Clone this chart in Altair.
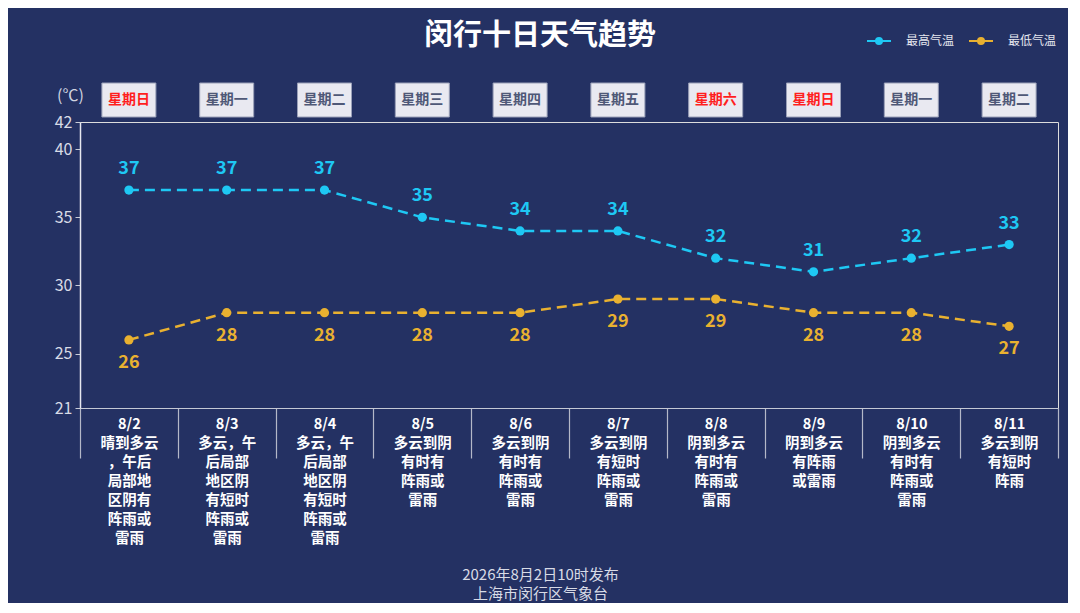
import altair as alt
import pandas as pd

dates = ["8/2", "8/3", "8/4", "8/5", "8/6", "8/7", "8/8", "8/9", "8/10", "8/11"]
weekdays = ["星期日", "星期一", "星期二", "星期三", "星期四", "星期五", "星期六", "星期日", "星期一", "星期二"]
highs = [37, 37, 37, 35, 34, 34, 32, 31, 32, 33]
lows = [26, 28, 28, 28, 28, 29, 29, 28, 28, 27]
desc_lines = [
    ["晴到多云", "，午后", "局部地", "区阴有", "阵雨或", "雷雨"],
    ["多云，午", "后局部", "地区阴", "有短时", "阵雨或", "雷雨"],
    ["多云，午", "后局部", "地区阴", "有短时", "阵雨或", "雷雨"],
    ["多云到阴", "有时有", "阵雨或", "雷雨"],
    ["多云到阴", "有时有", "阵雨或", "雷雨"],
    ["多云到阴", "有短时", "阵雨或", "雷雨"],
    ["阴到多云", "有时有", "阵雨或", "雷雨"],
    ["阴到多云", "有阵雨", "或雷雨"],
    ["阴到多云", "有时有", "阵雨或", "雷雨"],
    ["多云到阴", "有短时", "阵雨"],
]
series_names = ["最高气温", "最低气温"]
series_colors = ["#1ec8f4", "#e9b130"]
y_ticks = [21, 25, 30, 35, 40, 42]
title_text = "闵行十日天气趋势"
footer = ["2026年8月2日10时发布", "上海市闵行区气象台"]

BG = "#243163"
FONT = "Noto Sans CJK SC"

keys = ["|".join([d] + lines) for d, lines in zip(dates, desc_lines)]

day_df = pd.DataFrame({"key": keys, "weekday": weekdays, "high": highs, "low": lows})
long_df = pd.DataFrame({
    "key": keys + keys,
    "series": [series_names[0]] * len(keys) + [series_names[1]] * len(keys),
    "temp": highs + lows,
})

x_enc = alt.X(
    "key:N",
    sort=keys,
    scale=alt.Scale(paddingInner=0, paddingOuter=0),
    axis=alt.Axis(
        title=footer,
        labelExpr="datum.value ? split(datum.value, '|') : ''",
        labelAngle=0,
        labelAlign="center",
        labelColor="#ffffff",
        labelFontSize=14.5,
        labelFontWeight="bold",
        labelLineHeight=19,
        labelPadding=-41,
        labelBaseline="top",
        labelFont=FONT,
        tickBand="extent",
        tickSize=50,
        tickColor="#b4b8c8",
        tickWidth=1.2,
        domainColor="#c4c8d4",
        domainWidth=1.2,
        grid=False,
        titleFontSize=15,
        titleFontWeight="normal",
        titleColor="#d8dbe6",
        titleFont=FONT,
        titleX=460,
        titleY=159,
        titleAlign="center",
        titleBaseline="top",
        titleLineHeight=19,
    ),
)

y_scale = alt.Scale(domain=[21, 42], nice=False, zero=False)
y_enc = alt.Y(
    "temp:Q",
    scale=y_scale,
    axis=alt.Axis(
        values=y_ticks,
        title="(℃)",
        titleAngle=0,
        titleX=-10,
        titleY=-27,
        titleAlign="center",
        titleBaseline="middle",
        titleFontSize=16,
        titleFontWeight="normal",
        titleColor="#d0d4e0",
        titleFont=FONT,
        labelColor="#d8dbe6",
        labelFontSize=16,
        labelPadding=3,
        labelFont=FONT,
        tickSize=5,
        tickColor="#c8ccd8",
        domainColor="#e6e8f0",
        domainWidth=1.5,
        grid=False,
    ),
)

color_enc = alt.Color(
    "series:N",
    scale=alt.Scale(domain=series_names, range=series_colors),
    legend=alt.Legend(
        title=None,
        orient="none",
        legendX=786,
        legendY=-94,
        direction="horizontal",
        symbolType="M-1,0H1M0.25,0A0.25,0.25,0,1,1,-0.25,0A0.25,0.25,0,1,1,0.25,0Z",
        symbolSize=576,
        symbolStrokeWidth=2,
        labelColor="#e6e8f0",
        labelFontSize=12,
        labelFont=FONT,
        labelOffset=14,
        columnPadding=10,
    ),
)

lines = alt.Chart(long_df).mark_line(strokeDash=[10, 6], strokeWidth=2.5).encode(
    x=x_enc, y=y_enc, color=color_enc
)
points = alt.Chart(long_df).mark_point(filled=True, size=85, opacity=1).encode(
    x=alt.X("key:N", sort=keys), y=alt.Y("temp:Q"), color=alt.Color("series:N")
)

high_labels = alt.Chart(day_df).mark_text(
    dy=-21, fontSize=18, fontWeight="bold", color=series_colors[0], font=FONT
).encode(x=alt.X("key:N", sort=keys), y=alt.Y("high:Q", scale=y_scale), text="high:Q")

low_labels = alt.Chart(day_df).mark_text(
    dy=23, fontSize=18, fontWeight="bold", color=series_colors[1], font=FONT
).encode(x=alt.X("key:N", sort=keys), y=alt.Y("low:Q", scale=y_scale), text="low:Q")

boxes = alt.Chart(day_df).mark_bar(
    size=54, fill="#e9e9f1", stroke="#9aa0b8", strokeWidth=1
).encode(x=alt.X("key:N", sort=keys), y=alt.value(-39), y2=alt.value(-5))

weekday_text = alt.Chart(day_df).mark_text(
    fontSize=14, fontWeight="bold", font=FONT
).encode(
    x=alt.X("key:N", sort=keys),
    y=alt.value(-22),
    text="weekday:N",
    color=alt.condition(
        alt.FieldOneOfPredicate(field="weekday", oneOf=["星期六", "星期日"]),
        alt.value("#ff1e1e"),
        alt.value("#4f5877"),
    ),
)

chart = alt.layer(boxes, weekday_text, lines, points, high_labels, low_labels).properties(
    width=978,
    height=286,
    background=BG,
    padding={"left": 72, "top": 114, "right": 10, "bottom": 195},
    autosize=alt.AutoSizeParams(type="none"),
    title=alt.TitleParams(
        title_text,
        fontSize=29,
        fontWeight="bold",
        color="#ffffff",
        font=FONT,
        anchor="middle",
        dx=-29,
        offset=-23,
    ),
).configure_view(stroke=None).configure(font=FONT)

chart.save("out.html", embed_options={"renderer": "svg", "actions": False})
